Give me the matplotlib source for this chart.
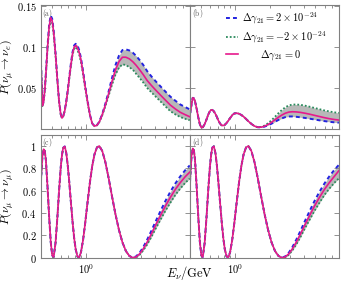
import numpy as np
import matplotlib.pyplot as plt
from matplotlib.ticker import LogLocator, NullFormatter

plt.rcParams['mathtext.fontset'] = 'cm'
plt.rcParams['font.family'] = 'serif'
plt.rcParams['font.serif'] = ['DejaVu Serif']

# neutrino energy grid (GeV)
energy = [0.40, 0.405, 0.415, 0.425, 0.435, 0.445, 0.46, 0.475, 0.49, 0.505,
          0.52, 0.54, 0.56, 0.58, 0.60, 0.615, 0.63, 0.65, 0.67, 0.69,
          0.71, 0.735, 0.76, 0.785, 0.81, 0.84, 0.87, 0.90, 0.94, 0.98,
          1.03, 1.08, 1.13, 1.18, 1.24, 1.30, 1.38, 1.47, 1.57, 1.68,
          1.80, 1.93, 2.07, 2.22, 2.38, 2.55, 2.73, 2.93, 3.15, 3.40,
          3.70, 4.05, 4.45, 4.90, 5.40, 6.0, 6.6, 7.3, 8.0]

# (a) nu_mu -> nu_e, neutrinos
app_nu_pos = [0.0887, 0.0734, 0.0286, 0.0337, 0.048, 0.0683, 0.102, 0.1275, 0.1387, 0.1346,
              0.1204, 0.0928, 0.0612, 0.0337, 0.0173, 0.0133, 0.0153, 0.0224, 0.0337, 0.0469,
              0.0622, 0.0796, 0.0938, 0.102, 0.104, 0.102, 0.0958, 0.0865, 0.070, 0.0525,
              0.033, 0.0165, 0.0062, 0.0031, 0.0041, 0.0083, 0.0178, 0.0305, 0.0456, 0.0621,
              0.0778, 0.0894, 0.0963, 0.0971, 0.0958, 0.0931, 0.0891, 0.0839, 0.0779, 0.0705,
              0.0641, 0.0578, 0.0517, 0.0455, 0.0394, 0.0341, 0.0296, 0.0264, 0.0235]
app_nu_neg = [0.0853, 0.0706, 0.0274, 0.0323, 0.0461, 0.0657, 0.098, 0.1225, 0.1333, 0.1294,
              0.1156, 0.0892, 0.0588, 0.0323, 0.0167, 0.0127, 0.0147, 0.0216, 0.0323, 0.0451,
              0.0598, 0.0764, 0.0902, 0.098, 0.100, 0.096, 0.0902, 0.0815, 0.066, 0.0495,
              0.031, 0.0155, 0.0058, 0.0029, 0.0039, 0.0077, 0.0162, 0.0276, 0.0404, 0.0539,
              0.0662, 0.0746, 0.0788, 0.0779, 0.0752, 0.0722, 0.067, 0.0619, 0.0564, 0.0499,
              0.0445, 0.039, 0.0332, 0.0273, 0.0215, 0.0173, 0.0142, 0.0119, 0.0102]
app_nu_zero = [0.087, 0.072, 0.028, 0.033, 0.047, 0.067, 0.100, 0.125, 0.136, 0.132,
               0.118, 0.091, 0.060, 0.033, 0.017, 0.013, 0.015, 0.022, 0.033, 0.046,
               0.061, 0.078, 0.092, 0.100, 0.102, 0.099, 0.093, 0.084, 0.068, 0.051,
               0.032, 0.016, 0.006, 0.003, 0.004, 0.008, 0.017, 0.029, 0.043, 0.058,
               0.072, 0.082, 0.0875, 0.0875, 0.0855, 0.082, 0.0775, 0.072, 0.066, 0.059,
               0.053, 0.047, 0.041, 0.035, 0.029, 0.024, 0.020, 0.017, 0.0145]

# (b) nu_mu -> nu_e, antineutrinos
app_nubar_pos = [0.018, 0.0197, 0.0298, 0.0377, 0.0371, 0.0334, 0.0241, 0.0138, 0.0054, 0.0012,
                 0.0015, 0.0053, 0.011, 0.017, 0.0213, 0.0228, 0.0229, 0.0211, 0.018, 0.0143,
                 0.0101, 0.0062, 0.0039, 0.0037, 0.0046, 0.0069, 0.0098, 0.0128, 0.0164, 0.0185,
                 0.0189, 0.0181, 0.0166, 0.0146, 0.0118, 0.0089, 0.0057, 0.0030, 0.0016, 0.0015,
                 0.0024, 0.0040, 0.0060, 0.0083, 0.0106, 0.0125, 0.0140, 0.0148, 0.0148, 0.0144,
                 0.0138, 0.0130, 0.0121, 0.0111, 0.0101, 0.0091, 0.0083, 0.0076, 0.0072]
app_nubar_neg = [0.018, 0.0197, 0.0298, 0.0377, 0.0371, 0.0334, 0.0241, 0.0138, 0.0054, 0.0012,
                 0.0015, 0.0053, 0.011, 0.017, 0.0213, 0.0228, 0.0229, 0.0211, 0.018, 0.0143,
                 0.0101, 0.0062, 0.0039, 0.0037, 0.0046, 0.0069, 0.0098, 0.0128, 0.0164, 0.0185,
                 0.0189, 0.0181, 0.0166, 0.0146, 0.0118, 0.0089, 0.0057, 0.0030, 0.0016, 0.0020,
                 0.0037, 0.0065, 0.0102, 0.0145, 0.0189, 0.0228, 0.0261, 0.0284, 0.0294, 0.0295,
                 0.0291, 0.0281, 0.0268, 0.0253, 0.0238, 0.0222, 0.0210, 0.0199, 0.0192]
app_nubar_zero = [0.018, 0.0197, 0.0298, 0.0377, 0.0371, 0.0334, 0.0241, 0.0138, 0.0054, 0.0012,
                  0.0015, 0.0053, 0.011, 0.017, 0.0213, 0.0228, 0.0229, 0.0211, 0.018, 0.0143,
                  0.0101, 0.0062, 0.0039, 0.0037, 0.0046, 0.0069, 0.0098, 0.0128, 0.0164, 0.0185,
                  0.0189, 0.0181, 0.0166, 0.0146, 0.0118, 0.0089, 0.0057, 0.0030, 0.0016, 0.0017,
                  0.0029, 0.0050, 0.0077, 0.0108, 0.0139, 0.0166, 0.0188, 0.0202, 0.0206, 0.0204,
                  0.0198, 0.0188, 0.0176, 0.0162, 0.0148, 0.0133, 0.0121, 0.0111, 0.0104]

# (c) nu_mu -> nu_mu, neutrinos
dis_nu_pos = [0.610, 0.728, 0.907, 0.970, 0.955, 0.870, 0.630, 0.367, 0.145, 0.021,
              0.007, 0.133, 0.356, 0.602, 0.812, 0.920, 0.983, 0.995, 0.937, 0.828,
              0.687, 0.500, 0.324, 0.176, 0.074, 0.010, 0.005, 0.049, 0.162, 0.310,
              0.505, 0.682, 0.823, 0.923, 0.986, 0.999, 0.955, 0.854, 0.711, 0.548,
              0.389, 0.250, 0.138, 0.060, 0.016, 0.000, 0.013, 0.046, 0.096, 0.161,
              0.240, 0.329, 0.418, 0.506, 0.587, 0.665, 0.726, 0.782, 0.825]
dis_nu_neg = [0.610, 0.728, 0.907, 0.970, 0.955, 0.870, 0.630, 0.367, 0.145, 0.021,
              0.007, 0.133, 0.356, 0.602, 0.812, 0.920, 0.983, 0.995, 0.937, 0.828,
              0.687, 0.500, 0.324, 0.176, 0.074, 0.010, 0.005, 0.049, 0.162, 0.310,
              0.505, 0.682, 0.823, 0.923, 0.986, 0.999, 0.955, 0.854, 0.711, 0.548,
              0.389, 0.250, 0.138, 0.060, 0.016, 0.000, 0.003, 0.027, 0.067, 0.118,
              0.185, 0.263, 0.340, 0.418, 0.489, 0.562, 0.617, 0.669, 0.708]
dis_nu_zero = [0.610, 0.728, 0.907, 0.970, 0.955, 0.870, 0.630, 0.367, 0.145, 0.021,
               0.007, 0.133, 0.356, 0.602, 0.812, 0.920, 0.983, 0.995, 0.937, 0.828,
               0.687, 0.500, 0.324, 0.176, 0.074, 0.010, 0.005, 0.049, 0.162, 0.310,
               0.505, 0.682, 0.823, 0.923, 0.986, 0.999, 0.955, 0.854, 0.711, 0.548,
               0.389, 0.250, 0.138, 0.060, 0.016, 0.000, 0.008, 0.036, 0.081, 0.139,
               0.212, 0.295, 0.378, 0.461, 0.537, 0.612, 0.670, 0.724, 0.765]

# (d) nu_mu -> nu_mu, antineutrinos
dis_nubar_pos = [0.615, 0.735, 0.912, 0.977, 0.960, 0.873, 0.632, 0.368, 0.146, 0.021,
                 0.007, 0.133, 0.356, 0.602, 0.812, 0.921, 0.985, 0.996, 0.938, 0.829,
                 0.688, 0.501, 0.325, 0.177, 0.074, 0.010, 0.005, 0.049, 0.162, 0.310,
                 0.505, 0.682, 0.823, 0.923, 0.986, 0.999, 0.955, 0.854, 0.711, 0.548,
                 0.389, 0.250, 0.138, 0.060, 0.016, 0.000, 0.013, 0.046, 0.096, 0.161,
                 0.240, 0.329, 0.418, 0.506, 0.587, 0.665, 0.727, 0.785, 0.830]
dis_nubar_neg = [0.615, 0.735, 0.912, 0.977, 0.960, 0.873, 0.632, 0.368, 0.146, 0.021,
                 0.007, 0.133, 0.356, 0.602, 0.812, 0.921, 0.985, 0.996, 0.938, 0.829,
                 0.688, 0.501, 0.325, 0.177, 0.074, 0.010, 0.005, 0.049, 0.162, 0.310,
                 0.505, 0.682, 0.823, 0.923, 0.986, 0.999, 0.955, 0.854, 0.711, 0.548,
                 0.389, 0.250, 0.138, 0.060, 0.016, 0.000, 0.003, 0.027, 0.067, 0.118,
                 0.185, 0.263, 0.340, 0.418, 0.489, 0.562, 0.617, 0.669, 0.710]
dis_nubar_zero = [0.615, 0.735, 0.912, 0.977, 0.960, 0.873, 0.632, 0.368, 0.146, 0.021,
                  0.007, 0.133, 0.356, 0.602, 0.812, 0.921, 0.985, 0.996, 0.938, 0.829,
                  0.688, 0.501, 0.325, 0.177, 0.074, 0.010, 0.005, 0.049, 0.162, 0.310,
                  0.505, 0.682, 0.823, 0.923, 0.986, 0.999, 0.955, 0.854, 0.711, 0.548,
                  0.389, 0.250, 0.138, 0.060, 0.016, 0.000, 0.008, 0.036, 0.081, 0.139,
                  0.212, 0.295, 0.378, 0.461, 0.537, 0.612, 0.671, 0.727, 0.778]

panel_tags = ['(a)', '(b)', '(c)', '(d)']
legend_labels = [r'$\Delta\gamma_{21} = 2\times10^{-24}$',
                 r'$\Delta\gamma_{21} = -2\times10^{-24}$',
                 r'$\qquad\Delta\gamma_{21} = 0$']

blue = '#2222e0'
green = '#2a8a5c'
pink = '#e6198c'
frame = '#808080'

fig = plt.figure(figsize=(3.44, 2.88), dpi=100)
gs = fig.add_gridspec(2, 2, left=0.118, right=0.985, top=0.981, bottom=0.105,
                      hspace=0.05, wspace=0)
axes = gs.subplots(sharex=True, sharey='row')

series = [(app_nu_pos, app_nu_neg, app_nu_zero),
          (app_nubar_pos, app_nubar_neg, app_nubar_zero),
          (dis_nu_pos, dis_nu_neg, dis_nu_zero),
          (dis_nubar_pos, dis_nubar_neg, dis_nubar_zero)]

handles = None
for ax, (pos, neg, zero), tag in zip(axes.flat, series, panel_tags):
    ax.fill_between(energy, pos, neg, color='#b8b8b8', lw=0)
    lp, = ax.plot(energy, pos, color=blue, lw=1.4, ls=(0, (2, 1.6)))
    ln, = ax.plot(energy, neg, color=green, lw=1.3, ls=(0, (1, 1.1)))
    l0, = ax.plot(energy, zero, color=pink, lw=1.2)
    if handles is None:
        handles = [lp, ln, l0]
    ax.set_xscale('log')
    ax.set_xlim(0.4, 8)
    ax.xaxis.set_minor_locator(LogLocator(subs=np.arange(2, 10)))
    ax.xaxis.set_minor_formatter(NullFormatter())
    ax.tick_params(which='both', direction='in', top=True, right=True,
                   color=frame, width=0.6, labelsize=7.5, pad=3)
    ax.tick_params(which='major', length=3.5)
    ax.tick_params(which='minor', length=2)
    for s in ax.spines.values():
        s.set_color(frame)
        s.set_linewidth(0.8)
    ax.text(0.012, 0.99, r'$\mathrm{' + tag + '}$', transform=ax.transAxes,
            ha='left', va='top', fontsize=5.5, color='#555555')

axes[0, 0].set_ylim(0, 0.151)
axes[0, 0].set_yticks([0.05, 0.1, 0.15])
axes[0, 0].set_yticklabels(['$0.05$', '$0.1$', '$0.15$'])
axes[1, 0].set_ylim(0, 1.1)
axes[1, 0].set_yticks([0, 0.2, 0.4, 0.6, 0.8, 1.0])
axes[1, 0].set_yticklabels(['$0$', '$0.2$', '$0.4$', '$0.6$', '$0.8$', '$1$'])
for ax in axes[1]:
    ax.set_xticks([1])
    ax.set_xticklabels(['$10^0$'])

axes[0, 0].set_ylabel(r'$P(\nu_\mu \to \nu_e)$', fontsize=8.5)
axes[1, 0].set_ylabel(r'$P(\nu_\mu \to \nu_\mu)$', fontsize=8.5)
axes[0, 0].yaxis.set_label_coords(-0.162, 0.5)
axes[1, 0].yaxis.set_label_coords(-0.162, 0.5)
fig.text(0.551, 0.022, r'$E_\nu/\mathrm{GeV}$', ha='center', va='bottom', fontsize=9)

axes[0, 1].legend(handles, legend_labels, loc='upper right',
                  bbox_to_anchor=(0.966, 1.016),
                  frameon=False, fontsize=7.5, handlelength=1.2, handletextpad=0.35,
                  labelspacing=0.3, borderaxespad=0.3)

fig.savefig('out.png', dpi=100)
